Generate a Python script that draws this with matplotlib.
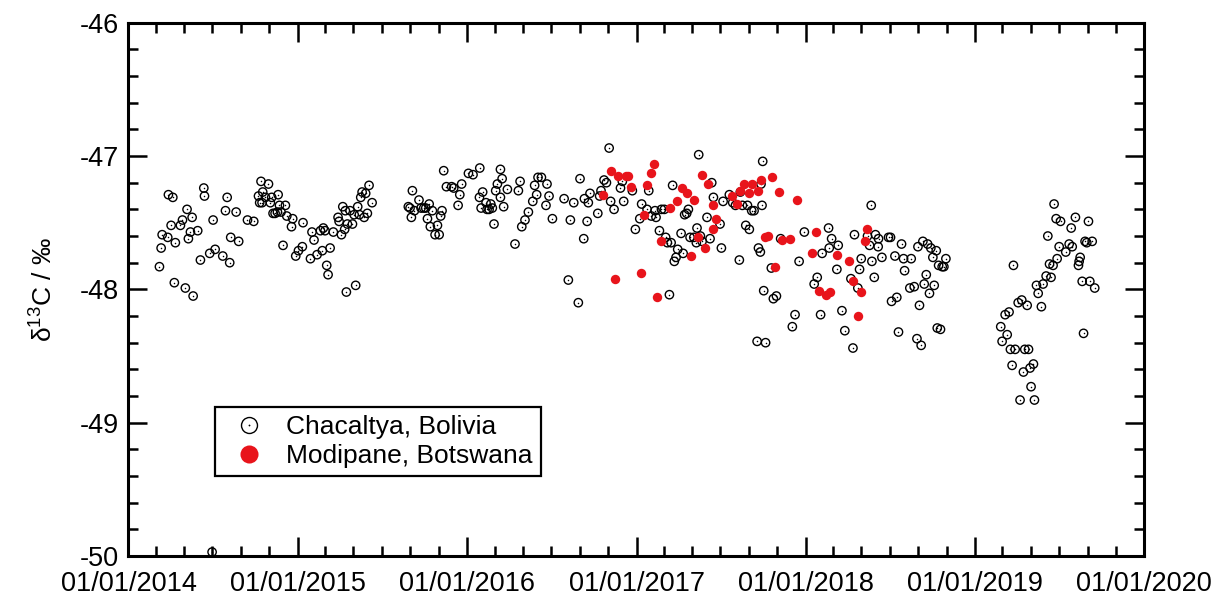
import numpy as np
import pandas as pd
import matplotlib
matplotlib.use('Agg')
import matplotlib.pyplot as plt
import matplotlib.dates as mdates
from matplotlib.ticker import MultipleLocator
from matplotlib.lines import Line2D
from matplotlib.legend_handler import HandlerTuple

plt.rcParams['font.family'] = ['Liberation Sans', 'DejaVu Sans']
plt.rcParams['mathtext.fontset'] = 'custom'
plt.rcParams['mathtext.rm'] = 'Liberation Sans'
plt.rcParams['mathtext.it'] = 'Liberation Sans:italic'
plt.rcParams['axes.unicode_minus'] = False

# sample time as decimal year, delta13C in per mil
chac_year = [
    2014.183, 2014.193, 2014.199, 2014.232, 2014.236, 2014.262, 2014.252, 2014.271, 2014.277, 2014.307,
    2014.319, 2014.346, 2014.354, 2014.366, 2014.376, 2014.409, 2014.336, 2014.382, 2014.425, 2014.445,
    2014.449, 2014.480, 2014.494, 2014.500, 2014.512, 2014.557, 2014.573, 2014.583, 2014.598, 2014.604,
    2014.636, 2014.651, 2014.703, 2014.740, 2014.783, 2014.827, 2014.793, 2014.768, 2014.775, 2014.809,
    2014.789, 2014.846, 2014.838, 2014.884, 2014.854, 2014.866, 2014.880, 2014.901, 2014.892, 2014.927,
    2014.935, 2014.970, 2014.963, 2014.913, 2014.988, 2015.004,
    2015.027, 2015.031, 2015.075, 2015.084, 2015.096, 2015.114, 2015.134, 2015.145, 2015.151, 2015.161,
    2015.171, 2015.179, 2015.191, 2015.210, 2015.238, 2015.244, 2015.258, 2015.266, 2015.277, 2015.281,
    2015.287, 2015.293, 2015.309, 2015.323, 2015.333, 2015.342, 2015.354, 2015.364, 2015.372, 2015.380,
    2015.392, 2015.401, 2015.411, 2015.421, 2015.439,
    2015.653, 2015.663, 2015.671, 2015.677, 2015.689, 2015.716, 2015.728, 2015.744, 2015.756, 2015.766,
    2015.776, 2015.783, 2015.795, 2015.811, 2015.825, 2015.835, 2015.844, 2015.852, 2015.862, 2015.878,
    2015.909, 2015.921, 2015.947, 2015.957, 2015.968, 2016.008,
    2016.035, 2016.075, 2016.073, 2016.092, 2016.083, 2016.112, 2016.118, 2016.130, 2016.140, 2016.149,
    2016.159, 2016.169, 2016.179, 2016.197, 2016.207, 2016.197, 2016.216, 2016.238, 2016.283, 2016.303,
    2016.313, 2016.323, 2016.342, 2016.362, 2016.388, 2016.399, 2016.411, 2016.419, 2016.439, 2016.466,
    2016.472, 2016.484, 2016.504, 2016.573, 2016.610, 2016.598, 2016.630, 2016.657, 2016.667, 2016.689,
    2016.693, 2016.709, 2016.716, 2016.726, 2016.772, 2016.791, 2016.783, 2016.809, 2016.823, 2016.839,
    2016.848, 2016.868, 2016.906, 2016.917, 2016.925, 2016.976, 2016.994,
    2017.020, 2017.031, 2017.063, 2017.073, 2017.088, 2017.116, 2017.110, 2017.136, 2017.148, 2017.165,
    2017.173, 2017.183, 2017.205, 2017.195, 2017.214, 2017.244, 2017.234, 2017.224, 2017.264, 2017.276,
    2017.285, 2017.297, 2017.307, 2017.317, 2017.339, 2017.354, 2017.358, 2017.368, 2017.378, 2017.388,
    2017.417, 2017.435, 2017.445, 2017.455, 2017.494, 2017.502, 2017.512, 2017.549, 2017.569, 2017.585,
    2017.608, 2017.614, 2017.626, 2017.646, 2017.656, 2017.667, 2017.681, 2017.695, 2017.713, 2017.721,
    2017.732, 2017.736, 2017.742, 2017.746, 2017.752, 2017.763, 2017.797, 2017.809, 2017.827, 2017.852,
    2017.921, 2017.937, 2017.961, 2017.992,
    2018.135, 2018.153, 2018.139, 2018.192, 2018.097, 2018.068, 2018.050, 2018.088, 2018.184, 2018.214,
    2018.231, 2018.267, 2018.279, 2018.288, 2018.308, 2018.318, 2018.328, 2018.365, 2018.377, 2018.387,
    2018.391, 2018.405, 2018.412, 2018.428, 2018.430, 2018.450, 2018.489, 2018.501, 2018.507, 2018.527,
    2018.538, 2018.548, 2018.566, 2018.578, 2018.584, 2018.615, 2018.623, 2018.641, 2018.657, 2018.663,
    2018.672, 2018.682, 2018.692, 2018.700, 2018.712, 2018.720, 2018.731, 2018.739, 2018.751, 2018.759,
    2018.771, 2018.777, 2018.796, 2018.785, 2018.806, 2018.816, 2018.828,
    2019.467, 2019.479, 2019.505, 2019.593, 2019.670, 2019.568, 2019.430, 2019.497, 2019.536, 2019.556,
    2019.574, 2019.650, 2019.660, 2019.692, 2019.485, 2019.440, 2019.461, 2019.621, 2019.615, 2019.611,
    2019.420, 2019.449, 2019.227, 2019.402, 2019.363, 2019.373, 2019.633, 2019.678, 2019.707, 2019.255,
    2019.276, 2019.308, 2019.392, 2019.178, 2019.201, 2019.152, 2019.190, 2019.160, 2019.641, 2019.209,
    2019.237, 2019.294, 2019.316, 2019.219, 2019.286, 2019.325, 2019.345, 2019.331, 2019.266, 2019.351,
]
chac_d13c = [
    -47.83, -47.69, -47.59, -47.61, -47.29, -47.31, -47.52, -47.95, -47.65, -47.52,
    -47.48, -47.40, -47.62, -47.57, -47.46, -47.56, -47.99, -48.05, -47.78, -47.24,
    -47.30, -47.73, -49.97, -47.48, -47.70, -47.75, -47.41, -47.31, -47.80, -47.61,
    -47.42, -47.64, -47.48, -47.49, -47.19, -47.21, -47.27, -47.30, -47.35, -47.31,
    -47.35, -47.31, -47.35, -47.29, -47.43, -47.43, -47.42, -47.42, -47.37, -47.37,
    -47.45, -47.47, -47.53, -47.67, -47.75, -47.71,
    -47.68, -47.50, -47.77, -47.57, -47.63, -47.74, -47.56, -47.71, -47.54, -47.56,
    -47.82, -47.89, -47.69, -47.57, -47.46, -47.49, -47.59, -47.38, -47.55, -47.41,
    -48.02, -47.51, -47.41, -47.51, -47.44, -47.97, -47.38, -47.44, -47.31, -47.27,
    -47.46, -47.28, -47.43, -47.22, -47.35,
    -47.38, -47.39, -47.46, -47.26, -47.41, -47.33, -47.39, -47.39, -47.39, -47.47,
    -47.36, -47.53, -47.41, -47.59, -47.52, -47.59, -47.45, -47.41, -47.11, -47.23,
    -47.23, -47.24, -47.37, -47.29, -47.21, -47.13,
    -47.14, -47.09, -47.31, -47.27, -47.39, -47.35, -47.40, -47.40, -47.36, -47.39,
    -47.51, -47.26, -47.21, -47.10, -47.17, -47.31, -47.38, -47.25, -47.66, -47.26,
    -47.19, -47.53, -47.48, -47.42, -47.34, -47.22, -47.29, -47.16, -47.16, -47.37,
    -47.21, -47.30, -47.47, -47.32, -47.48, -47.93, -47.35, -48.10, -47.17, -47.62,
    -47.32, -47.49, -47.35, -47.28, -47.43, -47.26, -47.30, -47.18, -47.20, -46.94,
    -47.34, -47.40, -47.24, -47.19, -47.34, -47.26, -47.55,
    -47.47, -47.36, -47.40, -47.26, -47.45, -47.46, -47.41, -47.56, -47.40, -47.40,
    -47.61, -47.65, -47.65, -48.04, -47.22, -47.70, -47.76, -47.79, -47.58, -47.73,
    -47.44, -47.43, -47.40, -47.61, -47.61, -47.65, -47.54, -46.99, -47.60, -47.64,
    -47.46, -47.62, -47.20, -47.31, -47.51, -47.69, -47.34, -47.29, -47.35, -47.37,
    -47.78, -47.27, -47.37, -47.52, -47.37, -47.55, -47.41, -47.41, -48.39, -47.69,
    -47.72, -47.21, -47.37, -47.04, -48.01, -48.40, -47.84, -48.07, -48.05, -47.62,
    -48.28, -48.19, -47.79, -47.57,
    -47.54, -47.62, -47.69, -47.67, -47.73, -47.91, -47.96, -48.19, -47.85, -48.16,
    -48.31, -47.92, -48.44, -47.59, -47.99, -47.85, -47.77, -47.60, -47.67, -47.37,
    -47.79, -47.91, -47.59, -47.68, -47.62, -47.76, -47.61, -47.61, -48.09, -47.75,
    -48.06, -48.32, -47.66, -47.77, -47.86, -47.99, -47.77, -47.98, -48.37, -47.68,
    -48.12, -48.42, -47.64, -47.96, -47.89, -47.66, -48.03, -47.69, -47.76, -47.97,
    -47.71, -48.29, -48.30, -47.82, -47.83, -47.83, -47.77,
    -47.36, -47.47, -47.49, -47.46, -47.49, -47.54, -47.60, -47.68, -47.72, -47.66,
    -47.68, -47.64, -47.65, -47.64, -47.77, -47.81, -47.82, -47.76, -47.79, -47.82,
    -47.90, -47.91, -47.82, -47.96, -47.97, -48.03, -47.94, -47.94, -47.99, -48.10,
    -48.08, -48.12, -48.13, -48.19, -48.17, -48.28, -48.34, -48.39, -48.33, -48.45,
    -48.45, -48.45, -48.45, -48.57, -48.62, -48.59, -48.56, -48.73, -48.83, -48.83,
]

modi_year = [
    2016.805, 2016.852, 2016.892, 2016.937, 2016.953, 2016.967, 2016.874,
    2017.025, 2017.047, 2017.065, 2017.086, 2017.104, 2017.124, 2017.148, 2017.197, 2017.242, 2017.268,
    2017.299, 2017.321, 2017.341, 2017.366, 2017.388, 2017.405, 2017.423, 2017.451, 2017.451, 2017.470,
    2017.565, 2017.596, 2017.614, 2017.634, 2017.663, 2017.683, 2017.719, 2017.736, 2017.760, 2017.776,
    2017.801, 2017.819, 2017.843, 2017.860, 2017.906, 2017.947,
    2018.040, 2018.062, 2018.080, 2018.121, 2018.145, 2018.182, 2018.255, 2018.281, 2018.306, 2018.324,
    2018.351, 2018.363,
]
modi_d13c = [
    -47.29, -47.11, -47.15, -47.15, -47.15, -47.23, -47.92,
    -47.88, -47.44, -47.22, -47.13, -47.06, -48.06, -47.64, -47.39, -47.34, -47.24,
    -47.28, -47.75, -47.33, -47.61, -47.14, -47.69, -47.21, -47.37, -47.55, -47.47,
    -47.30, -47.36, -47.26, -47.21, -47.28, -47.21, -47.26, -47.18, -47.61, -47.60,
    -47.16, -47.83, -47.27, -47.63, -47.62, -47.33,
    -47.73, -47.57, -48.01, -48.04, -48.02, -47.74, -47.79, -47.94, -48.20, -48.02,
    -47.64, -47.55,
]


def to_dates(yr):
    yr = np.asarray(yr)
    return pd.Timestamp('2014-01-01') + pd.to_timedelta((yr - 2014) * 365.25, unit='D')


chac_dates = to_dates(chac_year)
modi_dates = to_dates(modi_year)

fig = plt.figure(figsize=(12.13, 5.96), dpi=100)
ax = fig.add_axes([0.1059, 0.0671, 0.8373, 0.8948])

# open circles with a small centre dot, like the original markers
ax.scatter(chac_dates, chac_d13c, s=36, facecolors='none', edgecolors='black', linewidths=1.0, zorder=3)
ax.scatter(chac_dates, chac_d13c, s=1.2, c='black', linewidths=0, zorder=3.1)
ax.scatter(modi_dates, modi_d13c, s=46, c='#e8141b', linewidths=0, zorder=4)

ax.set_xlim(pd.Timestamp('2014-01-01'), pd.Timestamp('2020-01-01'))
ax.set_ylim(-50, -46)
ax.xaxis.set_major_locator(mdates.YearLocator())
ax.xaxis.set_minor_locator(mdates.MonthLocator(bymonth=[3, 5, 7, 9, 11]))
ax.xaxis.set_major_formatter(mdates.DateFormatter('%d/%m/%Y'))
ax.yaxis.set_major_locator(MultipleLocator(1))
ax.yaxis.set_minor_locator(MultipleLocator(0.2))

ax.tick_params(which='both', direction='in', top=True, right=True, width=1.8, labelsize=19.5)
ax.tick_params(which='major', length=13.5)
ax.tick_params(which='minor', length=7)
ax.tick_params(axis='x', pad=11)
ax.tick_params(axis='y', pad=7)
for sp in ax.spines.values():
    sp.set_linewidth(2.2)

ax.set_ylabel('δ$^{13}$C / ‰', fontsize=19, labelpad=16)

h_chac = (Line2D([], [], ls='none', marker='o', ms=11.5, mfc='none', mec='black', mew=1.0),
          Line2D([], [], ls='none', marker='o', ms=1.3, mfc='black', mec='none'))
h_modi = Line2D([], [], ls='none', marker='o', ms=13, mfc='#e8141b', mec='none')
leg = ax.legend([h_chac, h_modi], ['Chacaltya, Bolivia', 'Modipane, Botswana'],
                handler_map={tuple: HandlerTuple(ndivide=1)},
                loc='lower left', bbox_to_anchor=(0.0853, 0.150), borderaxespad=0,
                fontsize=19, fancybox=False, framealpha=1, edgecolor='black',
                handletextpad=0.4, labelspacing=0.18, borderpad=0.3)
leg.get_frame().set_linewidth(1.6)

fig.savefig('out.png', dpi=100)
